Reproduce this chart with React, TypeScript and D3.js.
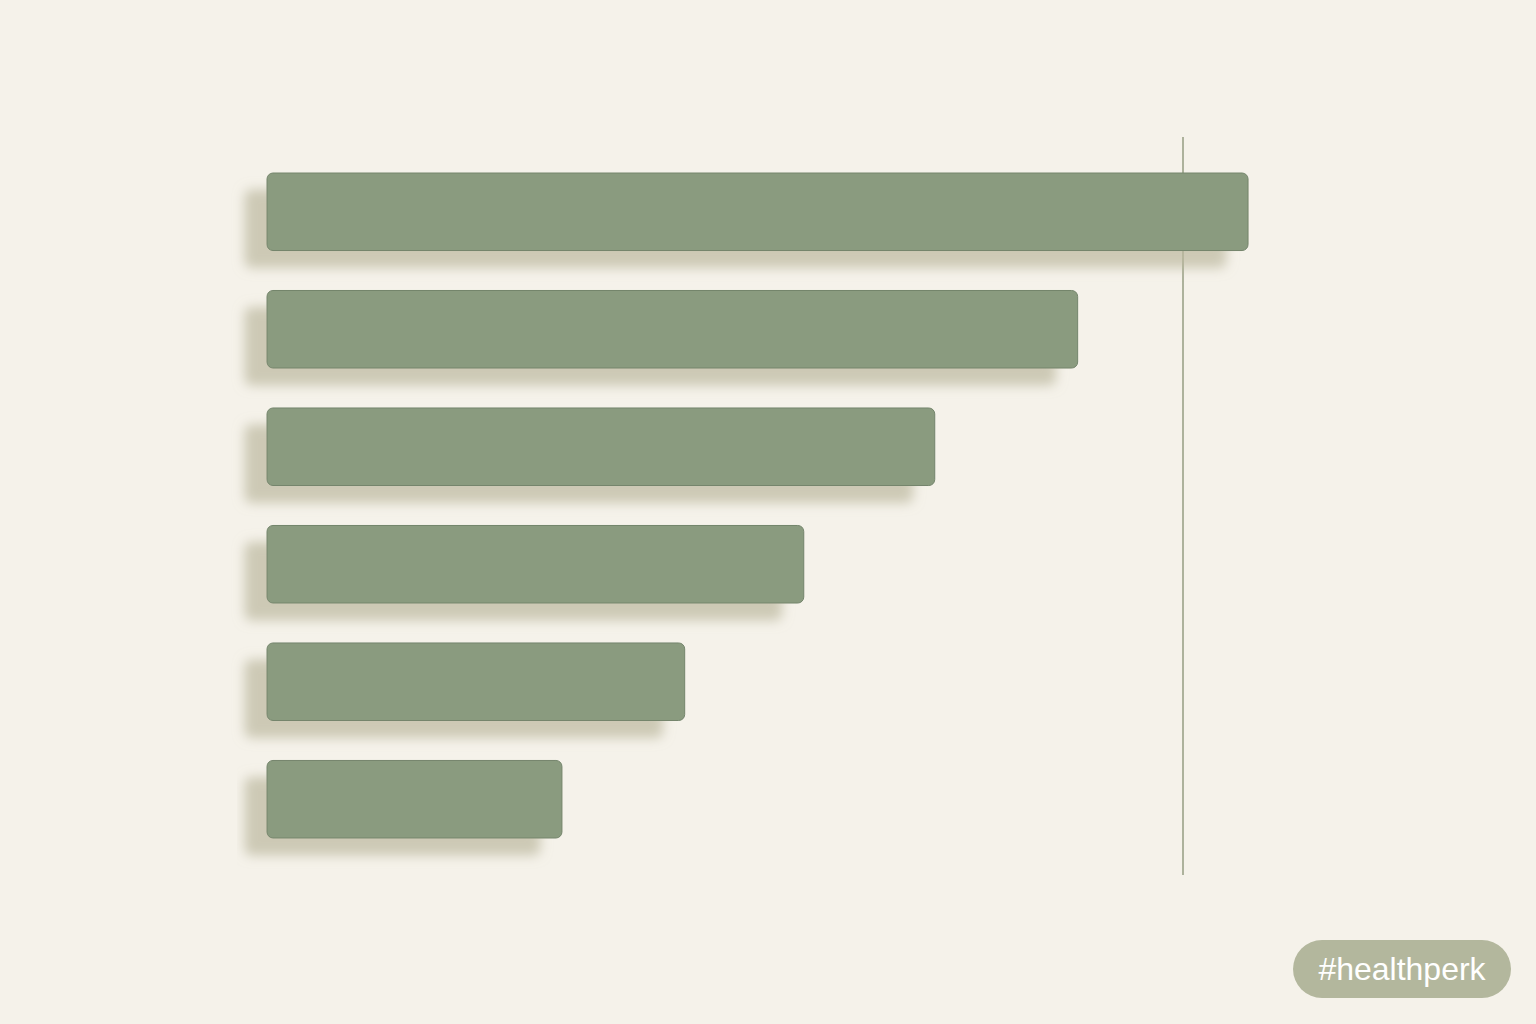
import React from "react";
import * as d3 from "d3";

// six unlabeled bars (0 = left edge, 100 = reference line)
const categories: string[] = ["c1", "c2", "c3", "c4", "c5", "c6"];
const values: number[] = [107.1, 88.5, 72.9, 58.6, 45.6, 32.2];
const referenceValue: number = 100;
const badgeText: string = "#healthperk";

const W = 1536;
const H = 1024;
const BarColor = "#8a9b7f";
const BarEdge = "#74856c";
const Background = "#f5f2ea";

export default function App(): React.ReactElement {
  const x = d3.scaleLinear().domain([0, 100]).range([267, 1183]);
  const y = d3.scaleBand<string>().domain(categories).range([173, 838]).paddingInner(0.34);

  return (
    <svg width={W} height={H} style={{position: "absolute", left: 0, top: 0, display: "block"}}>
      <defs>
        <filter id="shadow" x="-10%" y="-40%" width="120%" height="200%">
          <feDropShadow dx={-22} dy={17} stdDeviation={6} floodColor="#bcb89f" floodOpacity={0.7} />
        </filter>
      </defs>
      <rect x={0} y={0} width={W} height={H} fill={Background} />

      <line x1={x(referenceValue)} x2={x(referenceValue)} y1={137} y2={875}
            stroke="#adb29c" strokeWidth={2} />

      <g className="bars">
        {values.map((v, i) => {
          const cat = categories[i];
          const top = y(cat) as number;
          return (
            <rect key={cat} x={x(0)} y={top} width={x(v) - x(0)} height={y.bandwidth()}
                  rx={6} ry={6} fill={BarColor} stroke={BarEdge} strokeWidth={1}
                  filter="url(#shadow)" />
          );
        })}
      </g>

      <g className="badge" transform="translate(1293, 940)">
        <rect x={0} y={0} width={218} height={58} rx={29} ry={29} fill="#b3b79d" />
        <text x={109} y={40} textAnchor="middle" fill="#ffffff"
              fontFamily="Liberation Sans, Arial, sans-serif" fontSize={32}>
          {badgeText}
        </text>
      </g>
    </svg>
  );
}
